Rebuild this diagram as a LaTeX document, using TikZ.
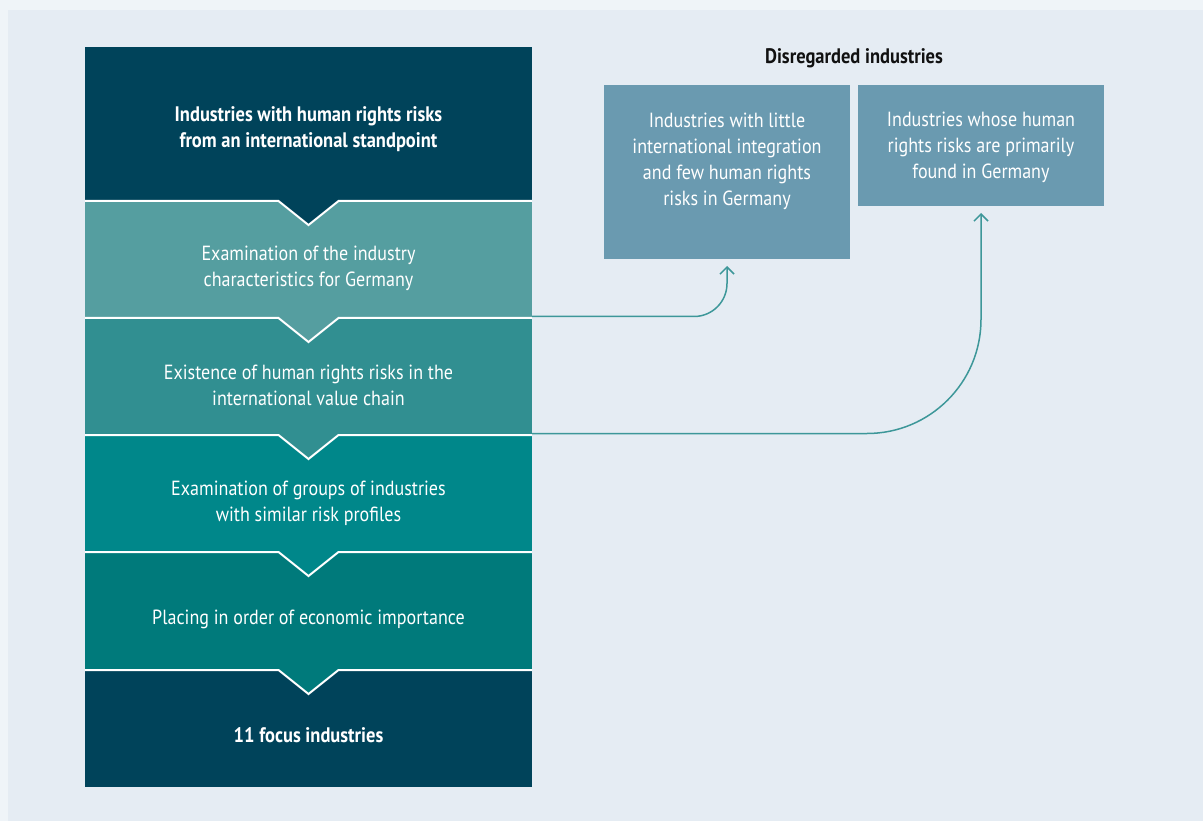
\documentclass[tikz,border=0pt]{standalone}
\usepackage{fontspec}
\setmainfont{PT Sans}[FakeStretch=0.88]
\usetikzlibrary{arrows.meta}

\definecolor{pagebg}{HTML}{EFF4F8}
\definecolor{panelbg}{HTML}{E5ECF3}
\definecolor{cdark}{HTML}{00435A}
\definecolor{cchars}{HTML}{559EA0}
\definecolor{cchain}{HTML}{318F91}
\definecolor{cgroups}{HTML}{00878A}
\definecolor{corder}{HTML}{007A7B}
\definecolor{cside}{HTML}{6A9AB0}
\definecolor{cflow}{HTML}{3D9799}
\definecolor{chead}{HTML}{111111}

\begin{document}
\begin{tikzpicture}[x=1pt, y=-1pt, >={Straight Barb[length=7pt,width=14pt]},
    stepbox/.style={minimum width=447pt, inner sep=0pt, outer sep=0pt},
    sidebox/.style={fill=cside, minimum width=246pt, inner sep=0pt, outer sep=0pt},
    steptext/.style={text=white, align=center, font=\fontsize{20.5}{26}\selectfont},
    stepbold/.style={steptext, font=\fontsize{21}{26}\selectfont\bfseries},
    sep/.style={draw=white, line width=2pt},
    flow/.style={->, draw=cflow, line width=1.5pt}]
    % background
    \fill[pagebg] (0,0) rectangle (1203,821);
    \fill[panelbg] (8,10) rectangle (1203,821);
    % steps of the left column
    \node[stepbox, fill=cdark, minimum height=154pt] (intl) at (308.5,124) {};
    \node[stepbox, fill=cchars, minimum height=117pt] (chars) at (308.5,259.5) {};
    \node[stepbox, fill=cchain, minimum height=117pt] (chain) at (308.5,376.5) {};
    \node[stepbox, fill=cgroups, minimum height=117pt] (groups) at (308.5,493.5) {};
    \node[stepbox, fill=corder, minimum height=118pt] (order) at (308.5,611) {};
    \node[stepbox, fill=cdark, minimum height=117pt] (focus) at (308.5,728.5) {};
    % notches between the steps
    \draw[sep, fill=cdark] (intl.south west) -- ([xshift=-30pt]intl.south) -- ([yshift=-24pt]intl.south) -- ([xshift=30pt]intl.south) -- (intl.south east);
    \draw[sep, fill=cchars] (chars.south west) -- ([xshift=-30pt]chars.south) -- ([yshift=-24pt]chars.south) -- ([xshift=30pt]chars.south) -- (chars.south east);
    \draw[sep, fill=cchain] (chain.south west) -- ([xshift=-30pt]chain.south) -- ([yshift=-24pt]chain.south) -- ([xshift=30pt]chain.south) -- (chain.south east);
    \draw[sep, fill=cgroups] (groups.south west) -- ([xshift=-30pt]groups.south) -- ([yshift=-24pt]groups.south) -- ([xshift=30pt]groups.south) -- (groups.south east);
    \draw[sep, fill=corder] (order.south west) -- ([xshift=-30pt]order.south) -- ([yshift=-24pt]order.south) -- ([xshift=30pt]order.south) -- (order.south east);
    % texts of the steps
    \node[stepbold] (intl-txt) at (308.5,129) {Industries with human rights risks\\from an international standpoint};
    \node[steptext] (chars-txt) at (308.5,268) {Examination of the industry\\characteristics for Germany};
    \node[steptext] (chain-txt) at (308.5,385) {Existence of human rights risks in the\\international value chain};
    \node[steptext] (groups-txt) at (308.5,503.5) {Examination of groups of industries\\with similar risk profiles};
    \node[steptext] (order-txt) at (308.5,619) {Placing in order of economic importance};
    \node[stepbold] (focus-txt) at (308.5,735) {11 focus industries};
    % disregarded industries
    \node[font=\fontsize{21}{26}\selectfont\bfseries, text=chead] (disregarded) at (854,58) {Disregarded industries};
    \node[sidebox, minimum height=174pt] (little) at (727,172) {};
    \node[sidebox, minimum height=121pt] (domestic) at (981,145.5) {};
    \node[steptext] (little-txt) at (727,161) {Industries with little\\international integration\\and few human rights\\risks in Germany};
    \node[steptext] (domestic-txt) at (981,147.5) {Industries whose human\\rights risks are primarily\\found in Germany};
    % connectors
    \draw[flow, rounded corners=33pt] ([yshift=1.5pt]chars.south east) -| ([yshift=-7pt]little.south);
    \draw[flow, rounded corners=114pt] ([yshift=1.5pt]chain.south east) -| ([yshift=-7pt]domestic.south);
\end{tikzpicture}
\end{document}
